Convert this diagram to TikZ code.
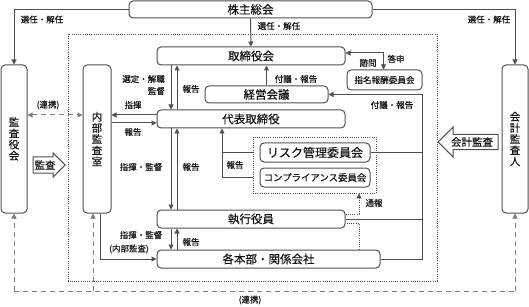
\documentclass[tikz,border=0pt]{standalone}
\usepackage{fontspec}
\setmainfont{Noto Sans CJK JP}[FakeBold=0.35]
\usetikzlibrary{arrows.meta,positioning,shapes.arrows}
\definecolor{linegray}{RGB}{80,80,80}
\definecolor{textblack}{RGB}{20,20,20}

\begin{document}
\begin{tikzpicture}[x=1pt,y=-1pt,
      box/.style={draw=linegray, fill=white, rounded corners=4pt, line width=1pt,
                  inner sep=0pt, font=\fontsize{11.5}{12}\selectfont, text=textblack},
      tallbox/.style={box, minimum width=26pt, minimum height=148pt, align=center,
                      font=\fontsize{10.5}{11.2}\selectfont},
      frame/.style={draw=linegray, line width=0.8pt, dash pattern=on 0.9pt off 1.3pt},
      lbl/.style={font=\fontsize{8.5}{12}\selectfont, text=textblack, inner sep=0pt},
      arrow/.style={-{Triangle[length=5pt,width=5pt]}, line width=1pt, draw=linegray},
      plain/.style={line width=1pt, draw=linegray},
      renkei/.style={line width=1pt, draw=linegray!75, dash pattern=on 5pt off 4pt},
      blockarrow/.style={single arrow, draw=linegray, line width=1pt, fill=white,
                         inner sep=1pt, text=textblack, font=\fontsize{10.5}{11}\selectfont},
    ]
    \useasboundingbox (0,0) rectangle (529,307);

    % frames
    \draw[frame] (68,34) rectangle (437,281);
    \node[frame, minimum width=123pt, minimum height=56pt] (iinkai) at (314.5,165) {};

    % boxes
    \node[box, minimum width=243pt, minimum height=17pt] (kabunushi) at (250.5,9.5) {株主総会};
    \node[box, minimum width=188pt, minimum height=18pt] (torishimari) at (251,56) {取締役会};
    \node[box, minimum width=123pt, minimum height=17pt] (keiei) at (266.5,94.5) {経営会議};
    \node[box, minimum width=75pt, minimum height=20pt,
          font=\fontsize{8.6}{10}\selectfont] (shimei) at (384.5,80) {指名報酬委員会};
    \node[box, minimum width=188pt, minimum height=18pt] (daihyo) at (251,119) {代表取締役};
    \node[box, minimum width=110pt, minimum height=19pt,
          font=\fontsize{12}{12}\selectfont] (risk) at (315,152.5) {リスク管理委員会};
    \node[box, minimum width=110pt, minimum height=19pt,
          font=\fontsize{9.4}{10}\selectfont] (comp) at (315,177.5) {コンプライアンス委員会};
    \node[box, minimum width=188pt, minimum height=18pt] (shikko) at (251,219) {執行役員};
    \node[box, minimum width=223pt, minimum height=18pt] (kakuhon) at (268.5,259) {各本部・関係会社};
    \node[tallbox] (kansayaku) at (14,139) {監\\査\\役\\会};
    \node[tallbox, minimum width=28pt] (naibu) at (97,139) {内\\部\\監\\査\\室};
    \node[tallbox] (kaikei) at (515,139) {会\\計\\監\\査\\人};

    \node[blockarrow, minimum height=31pt, minimum width=24pt,
          single arrow head extend=3pt] (kansa) at (45,165) {監査};
    \node[blockarrow, minimum height=60pt, minimum width=30pt,
          single arrow head extend=6pt, shape border rotate=180] (kaikeikansa) at (472,142) {会計監査};

    % shareholders
    \draw[arrow] (kabunushi.west) -| (kansayaku.north);
    \draw[arrow] (kabunushi.east) -| (kaikei.north);
    \draw[arrow] (kabunushi) -- (torishimari);
    \node[lbl] at (42,19.5) {選任・解任};
    \node[lbl] at (279,26) {選任・解任};
    \node[lbl] at (489,19.5) {選任・解任};

    % main line
    \draw[arrow] ([xshift=-80pt]torishimari.south) -- ([xshift=-80pt]daihyo.north);
    \draw[arrow] ([xshift=-74pt]daihyo.north) -- ([xshift=-74pt]torishimari.south);
    \draw[arrow] ([xshift=-80pt]daihyo.south) -- ([xshift=-80pt]shikko.north);
    \draw[arrow] ([xshift=-74pt]shikko.north) -- ([xshift=-74pt]daihyo.south);
    \draw[arrow] ([xshift=-80pt]shikko.south) -- ([xshift=-80pt]shikko.south |- kakuhon.north);
    \draw[arrow] ([xshift=-74pt]shikko.south |- kakuhon.north) -- ([xshift=-74pt]shikko.south);
    \node[lbl, anchor=east, align=right] at (165,85) {選定・解職\\監督};
    \node[lbl] at (191,89) {報告};
    \node[lbl] at (141,167) {指揮・監督};
    \node[lbl] at (191,167) {報告};
    \node[lbl] at (141,235) {指揮・監督};
    \node[lbl] at (191,242) {報告};

    \draw[arrow] (keiei.north) -- (keiei.north |- torishimari.south);
    \node[lbl] at (296,79) {付議・報告};

    % nomination committee
    \draw[{Triangle[length=5pt,width=5pt]}-{Triangle[length=5pt,width=5pt]}, plain]
      ([yshift=3pt]torishimari.east) -| ([xshift=-1pt]shimei.north);
    \node[lbl] at (368,63) {諮問};
    \node[lbl] at (396,59) {答申};

    % right bus
    \draw[arrow] (kakuhon.east) -- (422,259) -- (422,94.5) -- (keiei.east);
    \draw[plain] (shikko.east) -- (422,219);
    \draw[plain] (risk.east) -- (422,152.5);
    \node[lbl] at (392,105) {付議・報告};

    % committees report
    \draw[plain] (iinkai.west |- risk) -- (222,152.5);
    \draw[arrow] (iinkai.west |- comp) -| ([xshift=-29pt]daihyo.south);
    \node[lbl] at (235,165) {報告};
    \draw[-{Triangle[length=5pt,width=5pt]}, frame]
      ([yshift=5pt]shikko.east) -- (359,214) -- (iinkai.south -| 359,0);
    \draw[frame] (kakuhon.north -| 359,0) -- (359,223.5) -- ([yshift=-4.5pt]shikko.east);
    \node[lbl] at (374,203) {通報};

    % internal audit
    \draw[arrow] ([yshift=4pt]daihyo.west) -- ([yshift=4pt]daihyo.west -| naibu.east);
    \draw[arrow] ([yshift=-4pt]daihyo.west -| naibu.east) -- ([yshift=-4pt]daihyo.west);
    \node[lbl] at (133,105) {指揮};
    \node[lbl] at (133,132) {報告};
    \draw[arrow] ([xshift=3pt]naibu.south) |- (kakuhon.west);
    \node[lbl] at (129,249) {(内部監査)};

    % cooperation
    \draw[{Triangle[length=5pt,width=5pt]}-{Triangle[length=5pt,width=5pt]}, renkei]
      ([yshift=24pt]kansayaku.east) -- ([yshift=24pt]kansayaku.east -| naibu.west);
    \node[lbl] at (48,105) {(連携)};
    \coordinate (renkeiL) at (14,291);
    \coordinate (renkeiR) at (515,291);
    \draw[renkei] (renkeiL) -- (renkeiR);
    \draw[renkei, -{Triangle[length=5pt,width=5pt]}] (renkeiL) -- (kansayaku.south);
    \draw[renkei, -{Triangle[length=5pt,width=5pt]}] (93,291) -- ([xshift=-4pt]naibu.south);
    \draw[renkei, -{Triangle[length=5pt,width=5pt]}] (renkeiR) -- (kaikei.south);
    \node[lbl] at (250,300) {(連携)};
  \end{tikzpicture}
\end{document}
